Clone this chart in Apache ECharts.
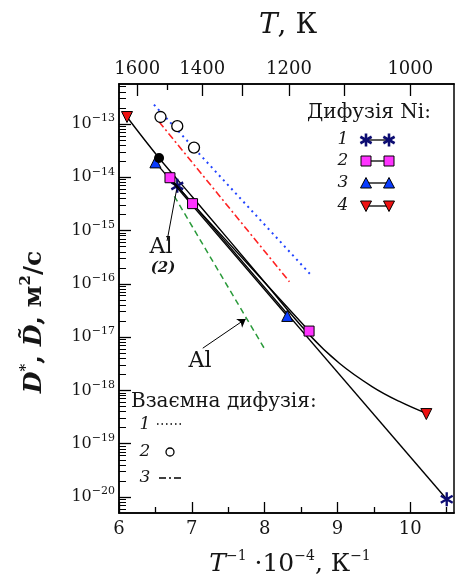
<!DOCTYPE html>
<html>
<head>
<meta charset="utf-8">
<script src="https://cdn.jsdelivr.net/npm/echarts@6/dist/echarts.min.js"></script>
<style>
html, body { margin: 0; padding: 0; background: #fff; }
#chart { width: 457px; height: 583px; }
</style>
</head>
<body>
<div id="chart"></div>
<script>
// x: T^-1 * 10^4 (K^-1), y: D (m^2/s)
const ni1X = [6.80, 10.50]
const ni1D = [6.9e-15, 9.1e-21]
const ni2X = [6.70, 7.01, 8.61]
const ni2D = [9.8e-15, 3.2e-15, 1.3e-17]
const ni3X = [6.50, 8.31]
const ni3D = [1.9e-14, 2.5e-17]
const ni4X = [6.11, 10.22]
const ni4D = [1.35e-13, 3.6e-19]
// curve drawn through set 4
const ni4CurveX = [6.11, 6.55, 7.0, 7.5, 8.0, 8.59, 9.03, 9.48, 9.85, 10.22]
const ni4CurveD = [1.35e-13, 2.3e-14, 4.4e-15, 6.9e-16, 1.07e-16, 1.2e-17, 3.2e-18, 1.17e-18, 6.2e-19, 3.7e-19]
const dotX = [6.55]
const dotD = [2.3e-14]

// interdiffusion
const mut1X = [6.48, 8.62]
const mut1D = [2.3e-13, 1.55e-16]
const mut2X = [6.57, 6.80, 7.03]
const mut2D = [1.35e-13, 9.1e-14, 3.6e-14]
const mut3X = [6.55, 8.34]
const mut3D = [1.1e-13, 1.1e-16]
const alX = [6.76, 8.00]
const alD = [4.4e-15, 6.0e-18]

// leader lines for the "Al" notes
const alLeader2X = [6.66, 6.79]
const alLeader2D = [6.4e-16, 5.8e-15]
const alArrowX = [7.15, 7.74]
const alArrowD = [6.2e-18, 2.2e-17]

// ticks
const xMajor = [6, 7, 8, 9, 10]
const xMinor = [6.5, 7.5, 8.5, 9.5, 10.5]
const tempLabels = [1600, 1400, 1200, 1000]
const tempLong = [1600, 1400, 1300, 1200, 1100, 1000]
const tempShort = [1500]
const decades = [-20, -19, -18, -17, -16, -15, -14, -13]

const niLegendLabels = ['1', '2', '3', '4']
const mutLegendLabels = ['1', '2', '3']

const X_MIN = 6, X_MAX = 10.6
const Y_MIN = -20.3, Y_MAX = -12.25
const SERIF = '"DejaVu Serif", serif'
const INK = '#151515'
const NAVY = '#0c0c72'
const MAGENTA = '#ff33ff'
const BLUE = '#0a3cff'
const RED = '#ee1111'

const lg = v => Math.log10(v)
const pts = (xs, ds) => xs.map((x, i) => [x, lg(ds[i])])

const yMinor = []
for (let n = -21; n <= -13; n++) {
  for (let k = 2; k <= 9; k++) {
    const v = n + Math.log10(k)
    if (v > Y_MIN && v < Y_MAX) yMinor.push(v)
  }
}

const STAR_ANGLES = [90, 30, -30]
function asteriskD() {
  const L = 10, w = 1.7
  let d = ''
  STAR_ANGLES.forEach(a => {
    const r = a * Math.PI / 180
    const ux = Math.cos(r), uy = Math.sin(r), nx = -uy, ny = ux
    const p = [
      [L * ux + w * nx, L * uy + w * ny],
      [L * ux - w * nx, L * uy - w * ny],
      [-L * ux - w * nx, -L * uy - w * ny],
      [-L * ux + w * nx, -L * uy + w * ny],
    ]
    d += 'M' + p.map(q => q[0].toFixed(2) + ' ' + q[1].toFixed(2)).join('L') + 'Z'
  })
  return d
}
const STAR = asteriskD()

const axisLineStyle = { color: '#000', width: 1.5 }
const tickStyle = { color: '#000', width: 1.3 }
const labelFont = { fontFamily: SERIF, color: INK }

function xAxisBase(position) {
  return {
    type: 'value', min: X_MIN, max: X_MAX, position,
    splitLine: { show: false },
    axisLine: { show: true, onZero: false, lineStyle: axisLineStyle },
  }
}
function yAxisBase(position) {
  return {
    type: 'value', min: Y_MIN, max: Y_MAX, position,
    splitLine: { show: false },
    axisLine: { show: true, onZero: false, lineStyle: axisLineStyle },
  }
}

const option = {
  animation: false,
  grid: { left: 119, right: 3, top: 84, bottom: 70 },
  xAxis: [
    Object.assign(xAxisBase('bottom'), {
      axisTick: { inside: true, length: 11, customValues: xMajor, lineStyle: tickStyle },
      axisLabel: Object.assign({ customValues: xMajor, fontSize: 18, margin: 7 }, labelFont),
    }),
    Object.assign(xAxisBase('bottom'), {
      axisTick: { inside: true, length: 6, customValues: xMinor, lineStyle: tickStyle },
      axisLabel: { show: false },
    }),
    Object.assign(xAxisBase('top'), {
      axisTick: { inside: true, length: 12, customValues: tempLong.map(t => 1e4 / t), lineStyle: tickStyle },
      axisLabel: Object.assign({
        customValues: tempLabels.map(t => 1e4 / t), fontSize: 18, margin: 6,
        formatter: v => String(Math.round(1e4 / v)),
      }, labelFont),
    }),
    Object.assign(xAxisBase('top'), {
      axisTick: { inside: true, length: 6, customValues: tempShort.map(t => 1e4 / t), lineStyle: tickStyle },
      axisLabel: { show: false },
    }),
  ],
  yAxis: [
    Object.assign(yAxisBase('left'), {
      axisTick: { inside: true, length: 12, customValues: decades, lineStyle: tickStyle },
      axisLabel: {
        customValues: decades, margin: 4,
        formatter: v => '{b|10}{s|\u2212' + Math.abs(Math.round(v)) + '}',
        rich: {
          b: { fontFamily: SERIF, fontSize: 16, color: INK, lineHeight: 22 },
          s: { fontFamily: SERIF, fontSize: 11, color: INK, verticalAlign: 'top', lineHeight: 11 },
        },
      },
    }),
    Object.assign(yAxisBase('left'), {
      axisTick: { inside: true, length: 7, customValues: yMinor, lineStyle: { color: '#000', width: 1 } },
      axisLabel: { show: false },
    }),
    Object.assign(yAxisBase('right'), {
      axisTick: { show: false },
      axisLabel: { show: false },
    }),
  ],
  series: [
    {
      name: 'fit4', type: 'line', smooth: 0.4, showSymbol: false, z: 2,
      data: pts(ni4CurveX, ni4CurveD),
      lineStyle: { color: '#000', width: 1.4 },
    },
    {
      name: 'Ni 1', type: 'line', z: 3,
      data: pts(ni1X, ni1D),
      symbol: 'path://' + STAR, symbolSize: [13, 14],
      itemStyle: { color: NAVY },
      lineStyle: { color: '#000', width: 1.4 },
    },
    {
      name: 'Ni 2', type: 'line', z: 4,
      data: pts(ni2X, ni2D),
      symbol: 'rect', symbolSize: 10,
      itemStyle: { color: MAGENTA, borderColor: '#000', borderWidth: 1 },
      lineStyle: { color: '#000', width: 1.4 },
    },
    {
      name: 'Ni 3', type: 'line', z: 4,
      data: pts(ni3X, ni3D),
      symbol: 'triangle', symbolSize: 11,
      itemStyle: { color: BLUE, borderColor: '#000', borderWidth: 1 },
      lineStyle: { color: '#000', width: 1.4 },
    },
    {
      name: 'Ni 4', type: 'scatter', z: 4,
      data: pts(ni4X, ni4D),
      symbol: 'triangle', symbolRotate: 180, symbolSize: 11,
      itemStyle: { color: RED, borderColor: '#000', borderWidth: 1, opacity: 1 },
    },
    {
      name: 'dot', type: 'scatter', z: 4,
      data: pts(dotX, dotD),
      symbol: 'circle', symbolSize: 10,
      itemStyle: { color: '#000', opacity: 1 },
    },
    {
      name: 'mut1', type: 'line', showSymbol: false, z: 1,
      data: pts(mut1X, mut1D),
      lineStyle: { color: '#2244ff', width: 2, type: [2, 4] },
    },
    {
      name: 'mut2', type: 'scatter', z: 4,
      data: pts(mut2X, mut2D),
      symbol: 'circle', symbolSize: 11,
      itemStyle: { color: '#fff', borderColor: '#000', borderWidth: 1.3, opacity: 1 },
    },
    {
      name: 'mut3', type: 'line', showSymbol: false, z: 1,
      data: pts(mut3X, mut3D),
      lineStyle: { color: '#ff2222', width: 1.6, type: [7, 3, 2, 3] },
    },
    {
      name: 'Al', type: 'line', showSymbol: false, z: 1,
      data: pts(alX, alD),
      lineStyle: { color: '#2a9a3a', width: 1.5, type: [6, 4] },
      markLine: {
        silent: true, animation: false,
        label: { show: false },
        emphasis: { disabled: true },
        lineStyle: { color: '#000', width: 1, type: 'solid' },
        data: [
          [
            { coord: [alLeader2X[0], lg(alLeader2D[0])], symbol: 'none' },
            { coord: [alLeader2X[1], lg(alLeader2D[1])], symbol: 'none' },
          ],
          [
            { coord: [alArrowX[0], lg(alArrowD[0])], symbol: 'none' },
            { coord: [alArrowX[1], lg(alArrowD[1])], symbol: 'arrow', symbolSize: 8 },
          ],
        ],
      },
    },
  ],
  graphic: [],
}

// legends and titles
const g = []
function txt(x, y, text, style) {
  g.push({ type: 'text', x, y, silent: true,
    style: Object.assign({ text, fontFamily: SERIF, fill: INK, align: 'center', verticalAlign: 'middle' }, style) })
}
function sup(extra) {
  return Object.assign({ fontFamily: SERIF, fill: INK, verticalAlign: 'top', lineHeight: 14 }, extra)
}
function legendStar(x, y) {
  STAR_ANGLES.forEach(a => {
    const r = a * Math.PI / 180
    const dx = Math.cos(r) * 6.5, dy = Math.sin(r) * 6.5
    g.push({ type: 'line', silent: true, shape: { x1: x - dx, y1: y - dy, x2: x + dx, y2: y + dy },
      style: { stroke: NAVY, lineWidth: 2.6 } })
  })
}

txt(288, 26, '{i|T}{n|, К}', {
  rich: {
    i: { fontFamily: SERIF, fontSize: 28, fontStyle: 'italic', fill: INK, lineHeight: 32 },
    n: { fontFamily: SERIF, fontSize: 28, fill: INK, lineHeight: 32 },
  },
})
txt(290, 564, '{i|T}{s|\u22121}{n| ·10}{s|\u22124}{n|, К}{s|\u22121}', {
  rich: {
    i: { fontFamily: SERIF, fontSize: 25, fontStyle: 'italic', fill: INK, lineHeight: 30 },
    n: { fontFamily: SERIF, fontSize: 25, fill: INK, lineHeight: 30 },
    s: sup({ fontSize: 14 }),
  },
})
g.push({ type: 'text', x: 34, y: 322, rotation: Math.PI / 2, silent: true,
  style: {
    text: '{i|D}{s|*}{n|, }{i|D\u0303}{n|, м}{s|2}{n|/с}',
    align: 'center', verticalAlign: 'middle', fontFamily: SERIF, fill: INK,
    rich: {
      i: { fontFamily: SERIF, fontSize: 25, fontStyle: 'italic', fontWeight: 'bold', fill: INK, lineHeight: 30 },
      n: { fontFamily: SERIF, fontSize: 25, fontWeight: 'bold', fill: INK, lineHeight: 30 },
      s: sup({ fontSize: 15, fontWeight: 'bold' }),
    },
  } })

// Ni legend (top right)
txt(369, 113, 'Дифузія Ni:', { fontSize: 20 })
const niRowY = [140, 161, 183, 206]
niLegendLabels.forEach((lab, i) => {
  const y = niRowY[i]
  txt(343, y, lab, { fontSize: 17, fontStyle: 'italic' })
  g.push({ type: 'line', silent: true, shape: { x1: 366, y1: y, x2: 389, y2: y }, style: { stroke: '#000', lineWidth: 1.3 } })
  ;[366, 389].forEach(x => {
    if (i === 0) {
      legendStar(x, y)
    } else if (i === 1) {
      g.push({ type: 'rect', silent: true, shape: { x: x - 5, y: y - 5, width: 10, height: 10 }, style: { fill: MAGENTA, stroke: '#000', lineWidth: 1 } })
    } else if (i === 2) {
      g.push({ type: 'polygon', silent: true, shape: { points: [[x, y - 5.5], [x - 5.5, y + 5], [x + 5.5, y + 5]] }, style: { fill: BLUE, stroke: '#000', lineWidth: 1 } })
    } else {
      g.push({ type: 'polygon', silent: true, shape: { points: [[x, y + 5.5], [x - 5.5, y - 5], [x + 5.5, y - 5]] }, style: { fill: RED, stroke: '#000', lineWidth: 1 } })
    }
  })
})

// interdiffusion legend (bottom left)
txt(131, 402, 'Взаємна дифузія:', { fontSize: 20, align: 'left' })
const mutRowY = [425, 452, 478]
mutLegendLabels.forEach((lab, i) => {
  const y = mutRowY[i]
  txt(145, y, lab, { fontSize: 17, fontStyle: 'italic' })
  if (i === 0) {
    g.push({ type: 'line', silent: true, shape: { x1: 157, y1: y - 1, x2: 181, y2: y - 1 }, style: { stroke: '#000', lineWidth: 1.3, lineDash: [1.5, 3] } })
  } else if (i === 1) {
    g.push({ type: 'circle', silent: true, shape: { cx: 170, cy: y, r: 4 }, style: { fill: '#fff', stroke: '#000', lineWidth: 1.3 } })
  } else {
    g.push({ type: 'line', silent: true, shape: { x1: 159, y1: y, x2: 182, y2: y }, style: { stroke: '#000', lineWidth: 1.3, lineDash: [7, 3, 2, 3] } })
  }
})

// notes
txt(161, 247, 'Al', { fontSize: 22 })
txt(163, 268, '(2)', { fontSize: 15, fontStyle: 'italic', fontWeight: 'bold' })
txt(200, 361, 'Al', { fontSize: 22 })

option.graphic = g

const chart = echarts.init(document.getElementById('chart'))
chart.setOption(option)
window.addEventListener('resize', () => chart.resize())
</script>
</body>
</html>
